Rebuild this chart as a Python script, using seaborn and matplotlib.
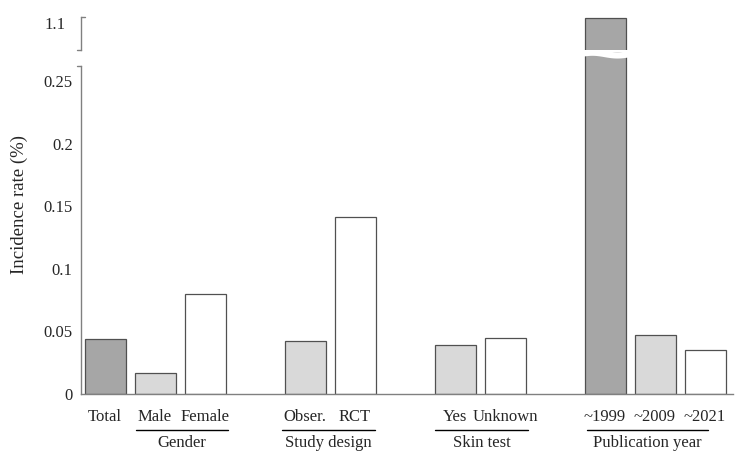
import matplotlib
matplotlib.use('Agg')
import matplotlib.pyplot as plt
import matplotlib.transforms as mtransforms
import seaborn as sns
import numpy as np
import pandas as pd

# categories, empty slots separate the groups
labels = ['Total', 'Male', 'Female', 'Obser.', 'RCT', 'Yes', 'Unknown',
          '~1999', '~2009', '~2021']
rates = [0.044, 0.017, 0.080, 0.042, 0.141, 0.039, 0.045, 1.104, 0.047, 0.035]
shades = ['dark', 'light', 'white', 'light', 'white', 'light', 'white',
          'dark', 'light', 'white']
order = ['Total', 'Male', 'Female', ' ', 'Obser.', 'RCT', '  ',
         'Yes', 'Unknown', '   ', '~1999', '~2009', '~2021']
groups = ['Gender', 'Study design', 'Skin test', 'Publication year']
group_spans = [(0.62, 2.46), (3.54, 5.4), (6.6, 8.46), (9.64, 12.06)]

shade_colors = {'dark': '#a6a6a6', 'light': '#d9d9d9', 'white': '#ffffff'}
df = pd.DataFrame({'label': labels, 'rate': rates, 'shade': shades})
palette = {lab: shade_colors[s] for lab, s in zip(labels, shades)}

sns.set_style('white')
plt.rcParams['font.family'] = ['Liberation Serif', 'DejaVu Serif']
plt.rcParams['font.size'] = 12

fig = plt.figure(figsize=(7.39, 4.54), dpi=100)
W, H = 739, 454
ax = fig.add_axes([81 / W, 60 / H, 652 / W, 342 / H])
ax_top = fig.add_axes([81 / W, 404 / H, 652 / W, 33 / H])

for a in (ax, ax_top):
    sns.barplot(data=df, x='label', y='rate', hue='label', order=order,
                palette=palette, width=0.82, edgecolor='#505050',
                linewidth=0.9, legend=False, ax=a)
    a.set_xlim(-0.48, 12.56)
    a.set_xlabel('')
    a.set_ylabel('')
    for s in ('top', 'right'):
        a.spines[s].set_visible(False)
    for s in ('left', 'bottom'):
        a.spines[s].set_color('#808080')
        a.spines[s].set_linewidth(1.0)

# lower part
ax.set_ylim(0, 0.2732)
ax.spines['left'].set_bounds(0, 0.262)
ax.set_yticks([0, 0.05, 0.1, 0.15, 0.2, 0.25])
ax.set_yticklabels(['0', '0.05', '0.1', '0.15', '0.2', '0.25'])
ax.tick_params(axis='y', direction='in', length=4, color='#808080', pad=6,
               labelsize=12)
ax.tick_params(axis='x', length=0, pad=11, labelsize=12)
ax.set_ylabel('Incidence rate (%)', fontsize=13.5)
ax.yaxis.set_label_coords(-0.082, 0.553)

# upper part
ax_top.set_ylim(1.078, 1.105)
ax_top.set_yticks([1.1])
ax_top.set_yticklabels(['1.1'])
ax_top.tick_params(axis='y', length=0, pad=11, labelsize=12)
ax_top.spines['bottom'].set_visible(False)
ax_top.set_xticks([])

# break marks on the left spine
ax_top.plot([0, 0.006], [1, 1], transform=ax_top.transAxes, color='#808080',
            lw=1, clip_on=False)
ax_top.plot([-0.006, 0], [0, 0], transform=ax_top.transAxes, color='#808080',
            lw=1, clip_on=False)
tr = mtransforms.blended_transform_factory(ax.transAxes, ax.transData)
ax.plot([-0.006, 0], [0.262, 0.262], transform=tr, color='#808080', lw=1,
        clip_on=False)

# wavy cut through the tall bar
tw = mtransforms.blended_transform_factory(ax.transData, ax.transAxes)
xw = np.linspace(9.5, 10.5, 80)
ax.plot(xw, 0.994 + 0.004 * np.sin((xw - 9.5) * 2 * np.pi),
        transform=tw, color='white', lw=4.5, clip_on=False, zorder=5)

# group labels with underlines
tg = mtransforms.blended_transform_factory(ax.transData, ax.transAxes)
for name, (x0, x1) in zip(groups, group_spans):
    ax.plot([x0, x1], [-0.105, -0.105], transform=tg, color='black', lw=1,
            clip_on=False)
    ax.text((x0 + x1) / 2, -0.142, name, transform=tg, ha='center',
            va='center', fontsize=12)

fig.savefig('out.png', dpi=100)
